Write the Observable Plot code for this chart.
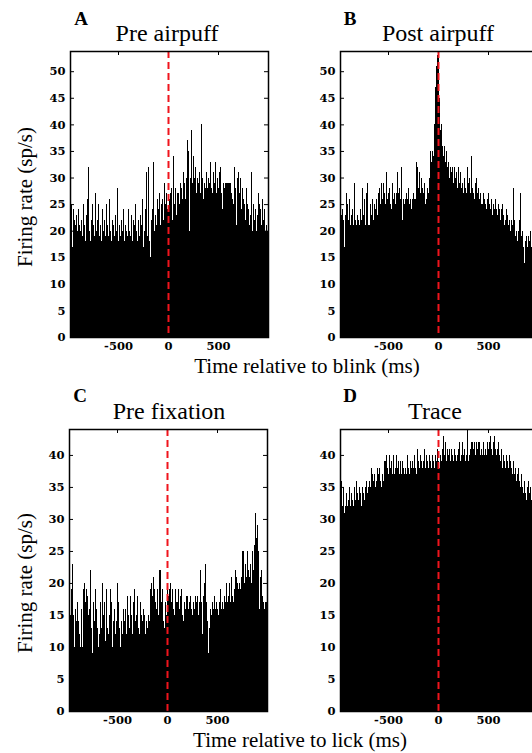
<!DOCTYPE html>
<html><head><meta charset="utf-8">
<script src="https://cdn.jsdelivr.net/npm/d3@7"></script>
<script src="https://cdn.jsdelivr.net/npm/@observablehq/plot@0.6"></script>
<style>
body{margin:0;background:#fff;}
#fig{position:relative;width:532px;height:753px;overflow:hidden;background:#fff;font-family:"Liberation Serif","Times New Roman",serif;color:#000;}
.t{position:absolute;white-space:nowrap;line-height:1;}
.p{position:absolute;}
.p svg{max-width:none !important;}
</style></head><body><div id="fig"></div>
<script>
// bins: 10 ms wide, starting at -1000 ms
const binStart = -1000;
const binWidth = 10;
const xTicks = [-500, 0, 500];
const yTicksAB = [0, 5, 10, 15, 20, 25, 30, 35, 40, 45, 50];
const yTicksCD = [0, 5, 10, 15, 20, 25, 30, 35, 40];

const preAirpuff = [
30,30,28,25,17,24,22,21,23,20,
24,21,20,22,19,25,21,18,23,26,
32,20,18,22,25,21,19,27,20,22,
25,19,21,18,24,20,22,19,25,21,
19,26,20,18,22,21,19,23,20,28,
18,21,19,22,20,24,18,21,20,19,
24,20,19,23,18,22,21,25,20,18,
22,19,23,21,26,17,20,24,31,19,
32,18,15,22,24,33,20,23,21,26,
24,27,21,25,26,22,29,25,27,24,
24,26,27,28,22,34,25,28,23,27,
27,25,29,28,26,31,29,26,30,37,
35,20,30,39,29,34,30,32,27,30,
29,31,27,40,30,26,29,28,31,28,
30,29,33,28,27,31,29,33,27,30,
28,31,32,27,24,29,28,29,29,29,
29,29,29,27,26,25,32,28,21,30,
31,27,30,24,28,26,25,22,28,25,
24,21,23,31,20,25,22,24,20,23,
27,25,24,21,26,22,24,20,21,20];

const postAirpuff = [
24,24,25,23,24,22,17,23,27,25,
22,26,21,23,24,21,29,22,21,23,
22,21,24,22,28,23,26,21,27,29,
21,21,25,23,26,22,25,24,26,23,
27,28,25,29,26,29,27,25,31,26,
27,28,25,24,29,26,27,25,27,31,
27,28,26,32,22,26,25,26,27,26,
28,25,26,24,26,27,26,26,33,32,
28,31,27,30,28,27,29,25,26,28,
27,30,35,33,35,34,40,47,51,53,
54,45,39,40,36,34,36,33,35,32,
33,30,32,31,32,29,32,30,31,28,
32,29,31,28,29,27,30,28,27,32,
29,30,27,34,28,27,26,29,30,27,
28,26,27,25,25,27,26,25,24,26,
27,25,24,26,23,25,24,26,24,23,
25,24,22,24,25,23,21,22,24,23,
21,22,20,22,21,28,22,19,20,18,
20,22,27,19,20,17,14,18,19,17,
19,18,20,17,18,19,17,18,19,18];

const preFixation = [
14,16,19,15,19,23,15,10,16,14,
17,14,12,10,16,10,19,20,17,19,
18,15,16,22,13,9,17,14,19,16,
13,10,12,17,13,20,15,17,11,19,
13,12,15,19,17,10,14,16,12,14,
20,17,13,10,14,12,16,14,16,12,
18,15,13,18,15,12,17,19,14,15,
18,13,12,17,15,14,16,15,12,14,
13,15,14,19,20,18,21,19,17,16,
19,15,22,22,17,19,14,13,17,15,
20,18,19,20,17,19,16,15,19,17,
17,19,16,18,19,15,14,17,16,18,
18,16,17,18,16,15,17,16,18,17,
18,15,17,22,17,12,18,20,23,17,
14,9,13,16,15,17,16,18,16,17,
16,15,17,19,16,17,16,18,17,20,
17,18,20,17,21,18,17,19,22,21,
20,19,20,19,21,25,25,20,23,21,
25,22,21,23,20,25,22,26,31,27,
29,25,16,21,22,18,17,16,17,17];

const trace = [
30,31,33,36,32,35,31,32,34,32,
33,35,32,34,33,32,35,33,36,34,
33,35,34,32,35,34,33,35,36,34,
35,36,35,38,37,36,37,35,36,38,
37,38,36,35,37,36,39,39,40,38,
37,40,38,39,37,40,37,38,40,38,
39,37,39,37,39,38,37,38,37,40,
38,37,39,38,39,38,40,38,37,41,
39,38,40,39,38,39,41,38,40,39,
38,40,39,38,40,39,38,40,39,41,
39,38,40,39,41,43,40,42,39,41,
40,41,39,41,40,39,41,40,39,40,
41,42,39,40,42,40,41,39,40,44,
39,40,41,42,42,41,42,40,42,41,
42,42,40,41,40,42,40,41,40,42,
41,42,43,41,40,42,43,41,40,41,
42,40,39,41,38,40,39,38,40,39,
38,40,39,38,37,39,37,38,36,37,
38,36,35,37,35,34,36,34,33,35,
36,34,35,33,34,33,34,32,33,32];

const fig = document.getElementById("fig");

function panel(values, ymax, yTicks, innerH) {
  const data = values.map((v, i) => ({x1: binStart + i * binWidth, x2: binStart + (i + 1) * binWidth, y: v}));
  const ml = 50, mr = 10, mt = 10, mb = 25, innerW = 198;
  return Plot.plot({
    width: ml + innerW + mr, height: mt + innerH + mb,
    marginLeft: ml, marginRight: mr, marginTop: mt, marginBottom: mb,
    x: {domain: [-980, 1000], label: null},
    y: {domain: [0, ymax], label: null},
    style: {fontFamily: '"DejaVu Serif", serif', fontSize: "11.5px", fontWeight: "bold", color: "black", background: "transparent", overflow: "visible", maxWidth: "none"},
    marks: [
      Plot.rectY(data, {x1: "x1", x2: "x2", y: "y", fill: "black", clip: true, shapeRendering: "crispEdges"}),
      Plot.tickY(yTicks, {y: d => d, insetRight: innerW - 4, stroke: "black"}),
      Plot.tickY(yTicks, {y: d => d, insetLeft: innerW - 4, stroke: "black"}),
      Plot.tickX(xTicks, {x: d => d, insetBottom: innerH - 4, stroke: "black"}),
      Plot.ruleX([0], {stroke: "#f0141c", strokeWidth: 2, strokeDasharray: "7,4"}),
      Plot.frame({stroke: "black", strokeWidth: 1.5}),
      Plot.axisY(yTicks, {tickSize: 0, tickPadding: 5, tickFormat: d => String(d), label: null}),
      Plot.axisX(xTicks, {tickSize: 0, tickPadding: 4, tickFormat: d => String(d), label: null})
    ]
  });
}

function place(el, left, top) {
  const d = document.createElement("div");
  d.className = "p";
  d.style.left = left + "px";
  d.style.top = top + "px";
  d.style.width = el.getAttribute("width") + "px";
  d.appendChild(el);
  fig.appendChild(d);
}

// frame left/top = svg left/top + (50, 10)
place(panel(preAirpuff, 53.8, yTicksAB, 286), 20, 41);
place(panel(postAirpuff, 53.8, yTicksAB, 286), 290, 41);
place(panel(preFixation, 44.05, yTicksCD, 282), 19, 419);
place(panel(trace, 44.05, yTicksCD, 282), 290, 419);

function label(text, x, baseline, size, opts = {}) {
  const d = document.createElement("div");
  d.className = "t";
  d.textContent = text;
  d.style.fontSize = size + "px";
  d.style.left = x + "px";
  d.style.top = (baseline - 0.84 * size) + "px";
  d.style.transform = "translateX(-50%)";
  if (opts.bold) d.style.fontWeight = "bold";
  fig.appendChild(d);
  return d;
}
function vlabel(text, cx, cy, size) {
  const d = document.createElement("div");
  d.className = "t";
  d.textContent = text;
  d.style.fontSize = size + "px";
  d.style.left = cx + "px";
  d.style.top = cy + "px";
  d.style.transform = "translate(-50%,-50%) rotate(-90deg)";
  fig.appendChild(d);
}

label("A", 81, 25, 19, {bold: true});
label("B", 350, 25, 19, {bold: true});
label("C", 80, 402, 19, {bold: true});
label("D", 350, 402, 19, {bold: true});

label("Pre airpuff", 167, 41, 24);
label("Post airpuff", 438, 41, 24);
label("Pre fixation", 169, 419, 24);
label("Trace", 435, 419, 24);

vlabel("Firing rate (sp/s)", 25, 197, 21);
vlabel("Firing rate (sp/s)", 25, 583, 21);

label("Time relative to blink (ms)", 307, 374, 21);
label("Time relative to lick (ms)", 300, 748, 21);
</script>
</body></html>
